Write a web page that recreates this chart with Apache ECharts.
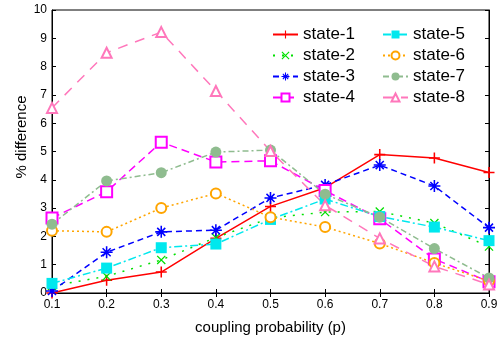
<!DOCTYPE html>
<html>
<head>
<meta charset="utf-8">
<script src="https://cdn.jsdelivr.net/npm/echarts@6/dist/echarts.min.js"></script>
<style>
html, body { margin: 0; padding: 0; background: #fff; }
#chart { width: 503px; height: 340px; }
</style>
</head>
<body>
<div id="chart"></div>
<script>
var chart = echarts.init(document.getElementById('chart'));

// data
var xLabels = ['0.1', '0.2', '0.3', '0.4', '0.5', '0.6', '0.7', '0.8', '0.9'];
var names = ['state-1', 'state-2', 'state-3', 'state-4', 'state-5', 'state-6', 'state-7', 'state-8'];
var state1 = [0.0, 0.45, 0.74, 1.93, 3.06, 3.72, 4.89, 4.77, 4.26];
var state2 = [0.25, 0.59, 1.17, 1.96, 2.65, 2.86, 2.88, 2.47, 1.64];
var state3 = [0.07, 1.44, 2.16, 2.22, 3.36, 3.82, 4.52, 3.78, 2.31];
var state4 = [2.65, 3.58, 5.33, 4.63, 4.67, 3.62, 2.62, 1.2, 0.4];
var state5 = [0.34, 0.88, 1.6, 1.73, 2.6, 3.32, 2.7, 2.33, 1.85];
var state6 = [2.2, 2.16, 3.0, 3.52, 2.68, 2.33, 1.75, 1.06, 0.42];
var state7 = [2.43, 3.96, 4.25, 4.98, 5.05, 3.49, 2.68, 1.57, 0.53];
var state8 = [6.54, 8.49, 9.22, 7.14, 5.02, 3.1, 1.93, 0.94, 0.3];
var yTicks = [0, 10, 1];

// thin marker shapes: plus, cross, asterisk (filled, no stroke)
var PLUS = 'path://M4.3,0L5.7,0L5.7,10L4.3,10ZM0,4.3L10,4.3L10,5.7L0,5.7Z';
var CROSS = 'path://M0,1L1,0L10,9L9,10ZM9,0L10,1L1,10L0,9Z';
var STAR = 'path://M4.35,0L5.65,0L5.65,10L4.35,10ZM0,4.35L10,4.35L10,5.65L0,5.65Z' +
	'M1.2,2.1L2.1,1.2L8.8,7.9L7.9,8.8ZM7.9,1.2L8.8,2.1L2.1,8.8L1.2,7.9Z';

var styles = [
	{ color: '#ff0000', type: 'solid', symbol: PLUS, size: 11, border: 0 },
	{ color: '#00e000', type: [2, 7], symbol: CROSS, size: 9, border: 0 },
	{ color: '#0000ff', type: [6, 4], symbol: STAR, size: 12, border: 0 },
	{ color: '#ff00ff', type: [8, 5], symbol: 'emptyRect', size: 11, border: 1.5 },
	{ color: '#00e8ee', type: [8, 3, 2, 3], symbol: 'rect', size: 11, border: 0 },
	{ color: '#ffa500', type: [2, 3], symbol: 'emptyCircle', size: 10, border: 1.5 },
	{ color: '#8fbc8f', type: [6, 3, 2, 3], symbol: 'circle', size: 11, border: 0 },
	{ color: '#ff77bb', type: [10, 8], symbol: 'emptyTriangle', size: 10, border: 1.5 }
];
var values = [state1, state2, state3, state4, state5, state6, state7, state8];

var series = names.map(function(name, i) {
	var s = styles[i];
	return {
		name: name,
		type: 'line',
		data: values[i],
		symbol: s.symbol,
		symbolSize: s.size,
		lineStyle: { color: s.color, width: 1.5, type: s.type },
		itemStyle: { color: s.color, borderColor: s.color, borderWidth: s.border }
	};
});

var font = 'Liberation Sans, Arial, sans-serif';
var legendBase = {
	orient: 'vertical',
	itemWidth: 25,
	itemHeight: 10,
	itemGap: 4,
	textStyle: { fontSize: 17, fontFamily: font, color: '#000', lineHeight: 17 },
	padding: 0
};

var option = {
	animation: false,
	backgroundColor: '#fff',
	grid: { left: 52, right: 14, top: 10, bottom: 43, show: true, borderColor: '#000', borderWidth: 1 },
	legend: [
		Object.assign({ left: 272, top: 26, data: names.slice(0, 4) }, legendBase),
		Object.assign({ left: 382, top: 26, data: names.slice(4) }, legendBase)
	],
	graphic: [{
		type: 'text',
		x: 22, y: 137,
		rotation: Math.PI / 2,
		style: {
			text: '% difference',
			fontSize: 15, fontFamily: font, fill: '#000',
			align: 'center', verticalAlign: 'middle'
		}
	}],
	xAxis: [{
		type: 'category',
		data: xLabels,
		boundaryGap: false,
		name: 'coupling probability (p)',
		nameLocation: 'middle',
		nameGap: 27,
		nameTextStyle: { fontSize: 15, fontFamily: font, color: '#000' },
		axisLine: { lineStyle: { color: '#000' } },
		axisTick: { inside: true, length: 4, lineStyle: { color: '#000' } },
		axisLabel: { fontSize: 12, fontFamily: font, color: '#000', margin: 6 },
		splitLine: { show: false }
	}, {
		type: 'category',
		data: xLabels,
		boundaryGap: false,
		position: 'top',
		axisLine: { lineStyle: { color: '#000' } },
		axisTick: { inside: true, length: 4, lineStyle: { color: '#000' } },
		axisLabel: { show: false }
	}],
	yAxis: [{
		type: 'value',
		min: yTicks[0], max: yTicks[1], interval: yTicks[2],
		axisLine: { show: true, lineStyle: { color: '#000' } },
		axisTick: { show: true, inside: true, length: 4, lineStyle: { color: '#000' } },
		axisLabel: { fontSize: 12, fontFamily: font, color: '#000', margin: 5 },
		splitLine: { show: false }
	}, {
		type: 'value',
		position: 'right',
		min: yTicks[0], max: yTicks[1], interval: yTicks[2],
		axisLine: { show: true, lineStyle: { color: '#000' } },
		axisTick: { show: true, inside: true, length: 4, lineStyle: { color: '#000' } },
		axisLabel: { show: false },
		splitLine: { show: false }
	}],
	series: series
};

chart.setOption(option);
</script>
</body>
</html>
